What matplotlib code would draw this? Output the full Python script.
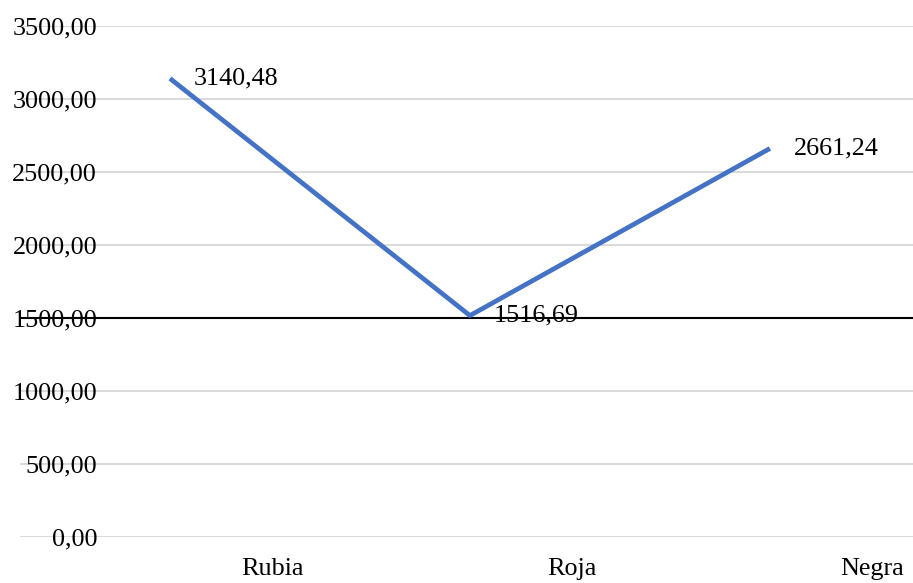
import matplotlib.pyplot as plt

# Datos: tipo de cerveza y valor medio
tipos = ['Rubia', 'Roja', 'Negra']
valores = [3140.48, 1516.69, 2661.24]
etiquetas_valor = ['3140,48', '1516,69', '2661,24']
marcas_y = [0, 500, 1000, 1500, 2000, 2500, 3000, 3500]

plt.rcParams['font.family'] = ['Liberation Serif', 'DejaVu Serif']

fig = plt.figure(figsize=(9.13, 5.83), dpi=100)
ax = fig.add_axes([20 / 913, 46 / 583, 893 / 913, 511 / 583])

x = list(range(len(tipos)))
ax.plot(x, valores, color='#4472C4', linewidth=3.4, solid_capstyle='butt', zorder=3)

# Etiquetas de datos a la derecha de cada punto
for xi, v, txt in zip(x, valores, etiquetas_valor):
    ax.annotate(txt, (xi, v), xytext=(17, 0), textcoords='offset points',
                ha='left', va='center', fontsize=18.8, color='black', zorder=4)

# Eje horizontal cruzando en 1500
ax.axhline(1500, color='black', linewidth=1.5, zorder=2)

ax.set_xlim(-0.5, 2.477)
ax.set_ylim(0, 3500)
ax.set_yticks(marcas_y)
ax.set_yticklabels([f'{m:.2f}'.replace('.', ',') for m in marcas_y])
ax.set_xticks([xi + 0.34 for xi in x])
ax.set_xticklabels(tipos)

ax.grid(axis='y', color='#D9D9D9', linewidth=1.4, zorder=0)
ax.set_axisbelow(True)
for s in ax.spines.values():
    s.set_visible(False)

ax.tick_params(axis='y', length=0, pad=-55.5, labelsize=18.8)
ax.tick_params(axis='x', length=0, pad=15, labelsize=18.8)
for lbl in ax.get_yticklabels():
    lbl.set_zorder(5)

fig.savefig('out.png', dpi=100)
